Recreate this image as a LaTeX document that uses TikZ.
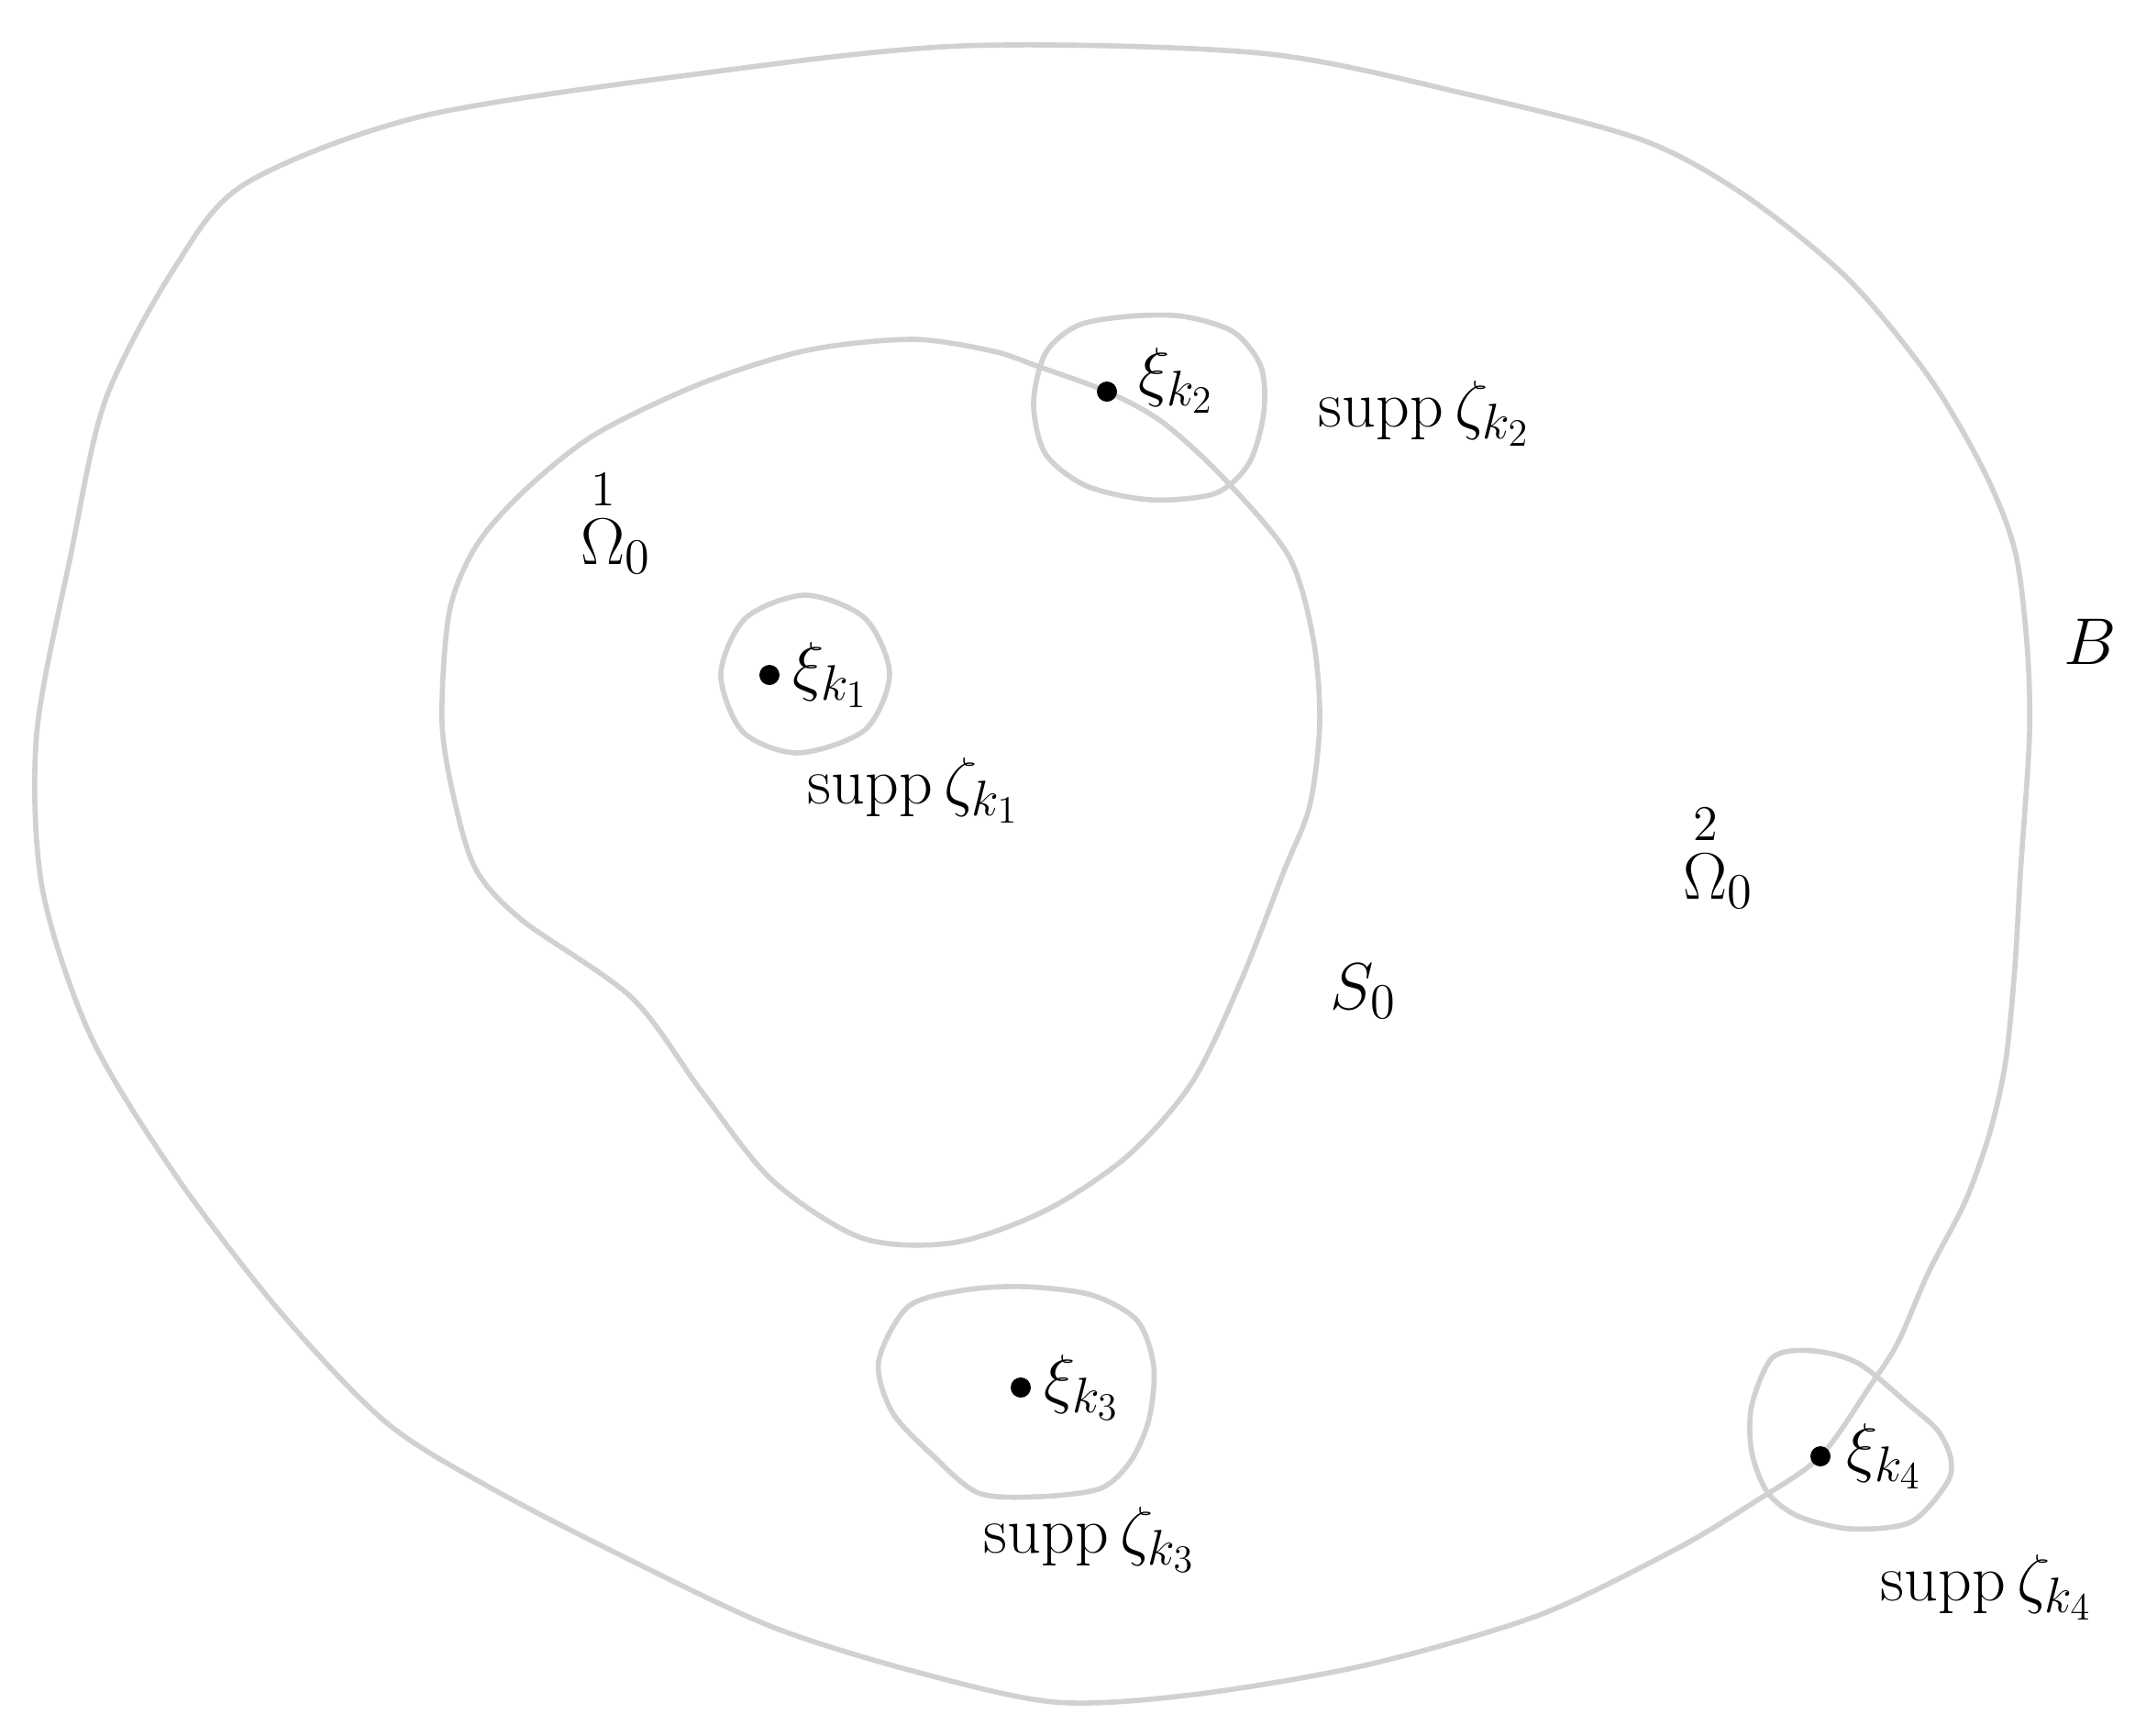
\RequirePackage{fix-cm}
\documentclass[tikz,border=0pt]{standalone}
\usepackage{amsmath}
\usetikzlibrary{positioning}
\DeclareMathSizes{20.5}{20.5}{15.5}{12}
\tikzset{
  curve/.style={draw=black!18, line width=1.6pt},
  pt/.style={circle, fill=black, inner sep=0pt, minimum size=0.22cm},
  lbl/.style={inner sep=0pt, font=\fontsize{20.5}{24}\selectfont}
}
\begin{document}
\begin{tikzpicture}
\useasboundingbox (0,0) rectangle (23.28,-18.93);
% boundary B
\draw [curve] plot[smooth cycle] coordinates {(10.50,-0.50) (13.75,-0.58) (16.01,-1.03) (17.89,-1.52) (19.01,-2.12) (20.14,-3.03) (21.04,-4.12) (21.64,-5.15) (21.97,-6.00) (22.10,-7.00) (22.13,-8.00) (22.03,-9.53) (21.97,-10.55) (21.87,-11.57) (21.70,-12.34) (21.43,-13.10) (21.03,-13.87) (20.70,-14.63) (20.40,-15.10) (19.85,-15.88) (19.16,-16.36) (18.26,-16.90) (16.76,-17.62) (14.88,-18.16) (13.00,-18.48) (11.50,-18.56) (9.95,-18.22) (8.42,-17.74) (6.89,-17.02) (5.36,-16.23) (4.21,-15.51) (3.06,-14.31) (1.91,-12.81) (0.99,-11.30) (0.46,-9.68) (0.40,-8.00) (0.77,-6.06) (1.15,-4.36) (1.91,-2.91) (2.68,-2.00) (4.59,-1.27) (7.65,-0.80)};
% S_0
\draw [curve] plot[smooth cycle] coordinates {(4.90,-6.67) (5.20,-5.94) (5.74,-5.33) (6.50,-4.73) (7.65,-4.18) (8.80,-3.82) (9.95,-3.70) (10.83,-3.83) (11.33,-4.00) (12.07,-4.27) (12.67,-4.60) (13.33,-5.20) (14.05,-6.06) (14.32,-6.97) (14.39,-7.88) (14.28,-8.79) (14.00,-9.50) (13.53,-10.70) (13.00,-11.80) (12.30,-12.60) (11.40,-13.20) (10.40,-13.55) (9.40,-13.50) (8.42,-12.87) (7.65,-11.90) (6.89,-10.88) (5.70,-10.04) (5.20,-9.50) (4.97,-8.79) (4.82,-7.88)};
% supports
\draw [curve] plot[smooth cycle] coordinates {(9.70,-7.35) (9.43,-6.74) (8.78,-6.49) (8.13,-6.74) (7.86,-7.35) (8.10,-7.98) (8.70,-8.21) (9.43,-7.96)};
\draw [curve] plot[smooth cycle] coordinates {(11.40,-3.85) (11.75,-3.55) (12.30,-3.45) (12.90,-3.45) (13.45,-3.62) (13.75,-4.00) (13.78,-4.50) (13.62,-5.05) (13.25,-5.38) (12.55,-5.45) (11.85,-5.30) (11.40,-4.95) (11.27,-4.40)};
\draw [curve] plot[smooth cycle] coordinates {(9.90,-14.25) (10.50,-14.07) (11.17,-14.03) (11.90,-14.12) (12.40,-14.40) (12.58,-14.90) (12.53,-15.47) (12.33,-15.93) (12.00,-16.23) (11.33,-16.32) (10.67,-16.28) (10.17,-15.87) (9.73,-15.40) (9.58,-14.85)};
\draw [curve] plot[smooth cycle] coordinates {(19.33,-14.80) (19.77,-14.73) (20.27,-14.87) (20.83,-15.33) (21.13,-15.60) (21.27,-15.90) (21.23,-16.17) (20.83,-16.60) (20.17,-16.67) (19.60,-16.53) (19.27,-16.27) (19.10,-15.83) (19.10,-15.33)};
% points xi
\node [pt] (x1) at (8.39,-7.36) {};
\node [pt] (x2) at (12.07,-4.27) {};
\node [pt] (x3) at (11.13,-15.13) {};
\node [pt] (x4) at (19.85,-15.88) {};
\node [lbl, right=0.13cm of x1] (xi1) {$\xi_{k_1}$};
\node [lbl, right=0.22cm of x2, yshift=0.12cm] (xi2) {$\xi_{k_2}$};
\node [lbl, right=0.13cm of x3] (xi3) {$\xi_{k_3}$};
\node [lbl, right=0.16cm of x4] (xi4) {$\xi_{k_4}$};
\node [lbl, anchor=base west] (supp1) at (8.80,-8.76) {$\operatorname{supp}\zeta_{k_1}$};
\node [lbl, anchor=base west] (supp2) at (14.37,-4.65) {$\operatorname{supp}\zeta_{k_2}$};
\node [lbl, anchor=base west] (supp3) at (10.72,-16.93) {$\operatorname{supp}\zeta_{k_3}$};
\node [lbl, anchor=base west] (supp4) at (20.50,-17.45) {$\operatorname{supp}\zeta_{k_4}$};
% regions
\node [lbl, anchor=base west] (om1) at (6.33,-6.15) {${\overset{1}{\Omega}}_0$};
\node [lbl, anchor=base west] (om2) at (18.35,-9.80) {${\overset{2}{\Omega}}_0$};
\node [lbl, anchor=base west] (s0) at (14.50,-11.00) {$S_0$};
\node [lbl, anchor=base west] (b) at (22.50,-7.24) {$B$};
\end{tikzpicture}
\end{document}
